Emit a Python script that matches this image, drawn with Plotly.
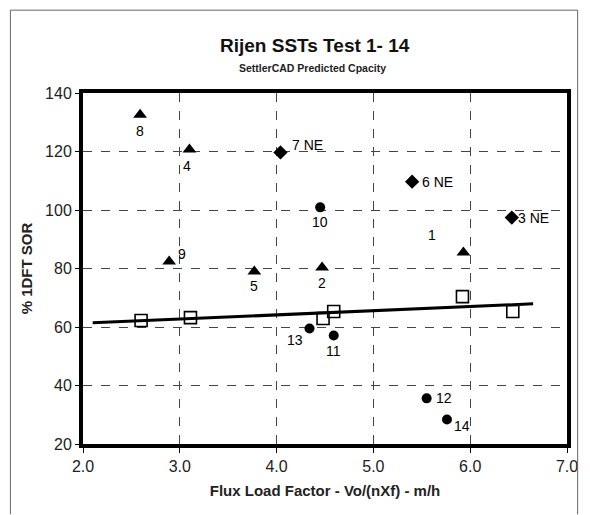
import numpy as np
import plotly.graph_objects as go

# Measured data (triangles)
tri_x = [5.93, 4.47, 3.10, 3.77, 2.59, 2.89]
tri_y = [85.5, 80.3, 120.7, 79.0, 132.6, 82.4]
tri_lab = ["1", "2", "4", "5", "8", "9"]

# NE data (diamonds)
dia_x = [6.43, 5.40, 4.04]
dia_y = [97.4, 109.7, 119.7]
dia_lab = ["3 NE", "6 NE", "7 NE"]

# Circles
cir_x = [4.45, 4.59, 5.55, 4.34, 5.76]
cir_y = [100.9, 57.1, 35.6, 59.5, 28.4]
cir_lab = ["10", "11", "12", "13", "14"]

# SettlerCAD predicted (open squares)
sq_x = [2.60, 3.11, 4.48, 4.59, 5.92, 6.44]
sq_y = [62.2, 63.2, 62.9, 65.3, 70.4, 65.3]

x_ticks = [2, 3, 4, 5, 6, 7]
x_ticktext = ["2.0", "3.0", "4.0", "5.0", "6.0", "7.0"]
y_ticks = [20, 40, 60, 80, 100, 120, 140]

# label offsets (px) for each label
offsets = {
    "1": (-31, 17), "2": (0, -15), "4": (-2, -17), "5": (0, -15), "8": (0, -16), "9": (13, 7),
    "3 NE": (22, 0), "6 NE": (25, 0), "7 NE": (27, 7),
    "10": (0, -15), "11": (0, -16), "12": (17, 0), "13": (-15, -12), "14": (15, -7),
}

fig = go.Figure()

fig.add_trace(go.Scatter(x=tri_x, y=tri_y, mode="markers",
                         marker=dict(symbol="triangle-up", size=12, color="black"),
                         showlegend=False))
fig.add_trace(go.Scatter(x=dia_x, y=dia_y, mode="markers",
                         marker=dict(symbol="diamond", size=11, color="black"),
                         showlegend=False))
fig.add_trace(go.Scatter(x=cir_x, y=cir_y, mode="markers",
                         marker=dict(symbol="circle", size=10, color="black"),
                         showlegend=False))

# trend line
coef = np.polyfit(sq_x, sq_y, 1)
lx = np.array([2.1, 6.65])
fig.add_trace(go.Scatter(x=lx, y=np.polyval(coef, lx), mode="lines",
                         line=dict(color="black", width=3), showlegend=False))

fig.add_trace(go.Scatter(x=sq_x, y=sq_y, mode="markers",
                         marker=dict(symbol="square-open", size=12, color="black",
                                     line=dict(width=1.6)),
                         showlegend=False))

for xs, ys, labs in [(tri_x, tri_y, tri_lab), (dia_x, dia_y, dia_lab), (cir_x, cir_y, cir_lab)]:
    for xv, yv, lab in zip(xs, ys, labs):
        dx, dy = offsets[lab]
        fig.add_annotation(x=xv, y=yv, text=lab, showarrow=False,
                           xshift=dx, yshift=dy,
                           font=dict(family="Arial", size=14, color="black"))

fig.update_xaxes(range=[2, 7], tickvals=x_ticks, ticktext=x_ticktext,
                 showgrid=True, gridcolor="#444", griddash="dash", gridwidth=1,
                 showline=True, linecolor="black", linewidth=4, mirror=True,
                 zeroline=False, ticks="outside", ticklen=5, tickcolor="black",
                 tickfont=dict(family="Arial", size=16, color="#222"),
                 title=dict(text="<b>Flux Load Factor - Vo/(nXf) - m/h</b>",
                            font=dict(family="Arial", size=15, color="#222"), standoff=12))
fig.update_yaxes(range=[20, 140], tickvals=y_ticks,
                 showgrid=True, gridcolor="#444", griddash="dash", gridwidth=1,
                 showline=True, linecolor="black", linewidth=4, mirror=True,
                 zeroline=False, ticks="outside", ticklen=4, tickcolor="black",
                 tickfont=dict(family="Arial", size=16, color="#222"),
                 title=dict(text="<b>% 1DFT SOR</b>",
                            font=dict(family="Arial", size=15, color="#222"), standoff=10))

fig.add_annotation(xref="paper", yref="paper", x=0.479, y=1.0, yshift=60, xanchor="center",
                   text="<b>Rijen SSTs Test 1- 14</b>", showarrow=False,
                   font=dict(family="Arial", size=19, color="#111"))
fig.add_annotation(xref="paper", yref="paper", x=0.475, y=1.0, yshift=33, xanchor="center",
                   text="<b>SettlerCAD Predicted Cpacity</b>", showarrow=False,
                   font=dict(family="Arial", size=10.5, color="#222"))

# outer frame (left, top, right)
fig.add_shape(type="path", xref="paper", yref="paper",
              path="M -0.150,-0.20 L -0.150,1.236 L 1.022,1.236 L 1.022,-0.20",
              line=dict(color="#666", width=1))

fig.update_layout(width=582, height=507, paper_bgcolor="white", plot_bgcolor="white",
                  margin=dict(l=75, r=16, t=85, b=71),
                  font=dict(family="Arial"))

fig.write_html("out.html")
